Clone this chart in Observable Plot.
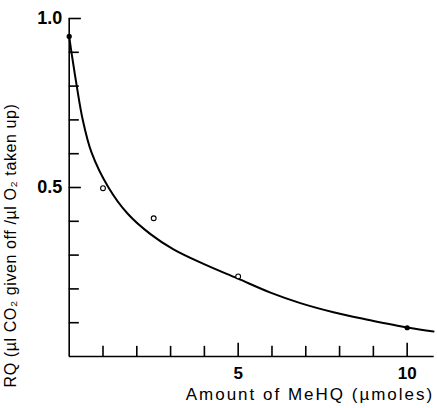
<!DOCTYPE html>
<html>
<head>
<meta charset="utf-8">
<script src="https://cdn.jsdelivr.net/npm/d3@7"></script>
<script src="https://cdn.jsdelivr.net/npm/@observablehq/plot@0.6"></script>
<style>
  html, body { margin: 0; padding: 0; background: #fff; }
  svg { font-family: "Liberation Sans", Arial, sans-serif; }
</style>
</head>
<body>
<div id="chart"></div>
<script>
// Fitted curve
const curveX = [0, 0.068, 0.216, 0.393, 0.66, 1.163, 1.725, 2.405, 3.086, 3.973, 4.98, 5.956, 6.84, 7.82, 8.83, 10.04, 10.78];
const curveY = [0.947, 0.899, 0.805, 0.704, 0.604, 0.500, 0.423, 0.362, 0.317, 0.274, 0.231, 0.189, 0.158, 0.131, 0.109, 0.085, 0.074];
// Measured points
const openX = [1, 2.5, 5];
const openY = [0.498, 0.409, 0.237];
const filledX = [0, 10];
const filledY = [0.947, 0.085];
// Axes
const xTicks = [1, 2, 3, 4, 5, 6, 7, 8, 9, 10];
const xMajor = [5, 10];
const yTicks = [0.1, 0.2, 0.3, 0.4, 0.5, 0.6, 0.7, 0.8, 0.9, 1.0];
const yMajor = [0.5, 1.0];
const xTickLabels = ["5", "10"];
const yTickLabels = ["0.5", "1.0"];
const xLabel = "Amount of MeHQ (µmoles)";
const yLabel = "RQ (µl CO₂ given off /µl O₂ taken up)";
const xMax = 10.8;

const curve = curveX.map((x, i) => ({x, y: curveY[i]}));
const open = openX.map((x, i) => ({x, y: openY[i]}));
const filled = filledX.map((x, i) => ({x, y: filledY[i]}));
const xt = xTicks.map(v => ({v, len: xMajor.includes(v) ? 0.039 : 0.03}));
const yt = yTicks.map(v => ({v, len: yMajor.some(m => Math.abs(m - v) < 1e-9) ? 0.36 : 0.3}));
const xl = xMajor.map((v, i) => ({v, t: xTickLabels[i]}));
const yl = yMajor.map((v, i) => ({v, t: yTickLabels[i]}));

const chart = Plot.plot({
  width: 437,
  height: 408,
  marginLeft: 68.7,
  marginRight: 3.3,
  marginTop: 18,
  marginBottom: 52,
  x: {domain: [0, xMax], axis: null},
  y: {domain: [0, 1], axis: null},
  marks: [
    Plot.ruleX([0], {y1: 0, y2: 1, stroke: "#000", strokeWidth: 1.6}),
    Plot.ruleY([0], {x1: 0, x2: xMax, stroke: "#000", strokeWidth: 1.6}),
    Plot.ruleX(xt, {x: "v", y1: 0, y2: "len", stroke: "#000", strokeWidth: 1.6}),
    Plot.ruleY(yt, {y: "v", x1: 0, x2: "len", stroke: "#000", strokeWidth: 1.6}),
    Plot.text(xl, {x: "v", y: 0, text: "t", dy: 17, fontSize: 17, fontWeight: "bold", fill: "#000", lineAnchor: "middle"}),
    Plot.text(yl, {x: 0, y: "v", text: "t", dx: -7, textAnchor: "end", fontSize: 18, fontWeight: "bold", fill: "#000", lineAnchor: "middle"}),
    Plot.line(curve, {x: "x", y: "y", curve: "catmull-rom", stroke: "#000", strokeWidth: 2}),
    Plot.dot(open, {x: "x", y: "y", r: 2.4, stroke: "#000", strokeWidth: 1.1, fill: "white"}),
    Plot.dot(filled, {x: "x", y: "y", r: 2.6, fill: "#000", stroke: "none"}),
    Plot.text([xLabel], {frameAnchor: "bottom-right", dx: 0, dy: 38, textAnchor: "end", lineAnchor: "middle", fontSize: 17, fill: "#000"}),
    Plot.text([yLabel], {frameAnchor: "left", rotate: -90, dx: -58, dy: 58, textAnchor: "middle", lineAnchor: "middle", fontSize: 16, fill: "#000"})
  ]
});
d3.select(chart).selectAll("text").each(function() {
  if (this.textContent === xLabel) this.style.letterSpacing = "2px";
  if (this.textContent === yLabel) this.style.letterSpacing = "0.6px";
});
document.getElementById("chart").appendChild(chart);
</script>
</body>
</html>
